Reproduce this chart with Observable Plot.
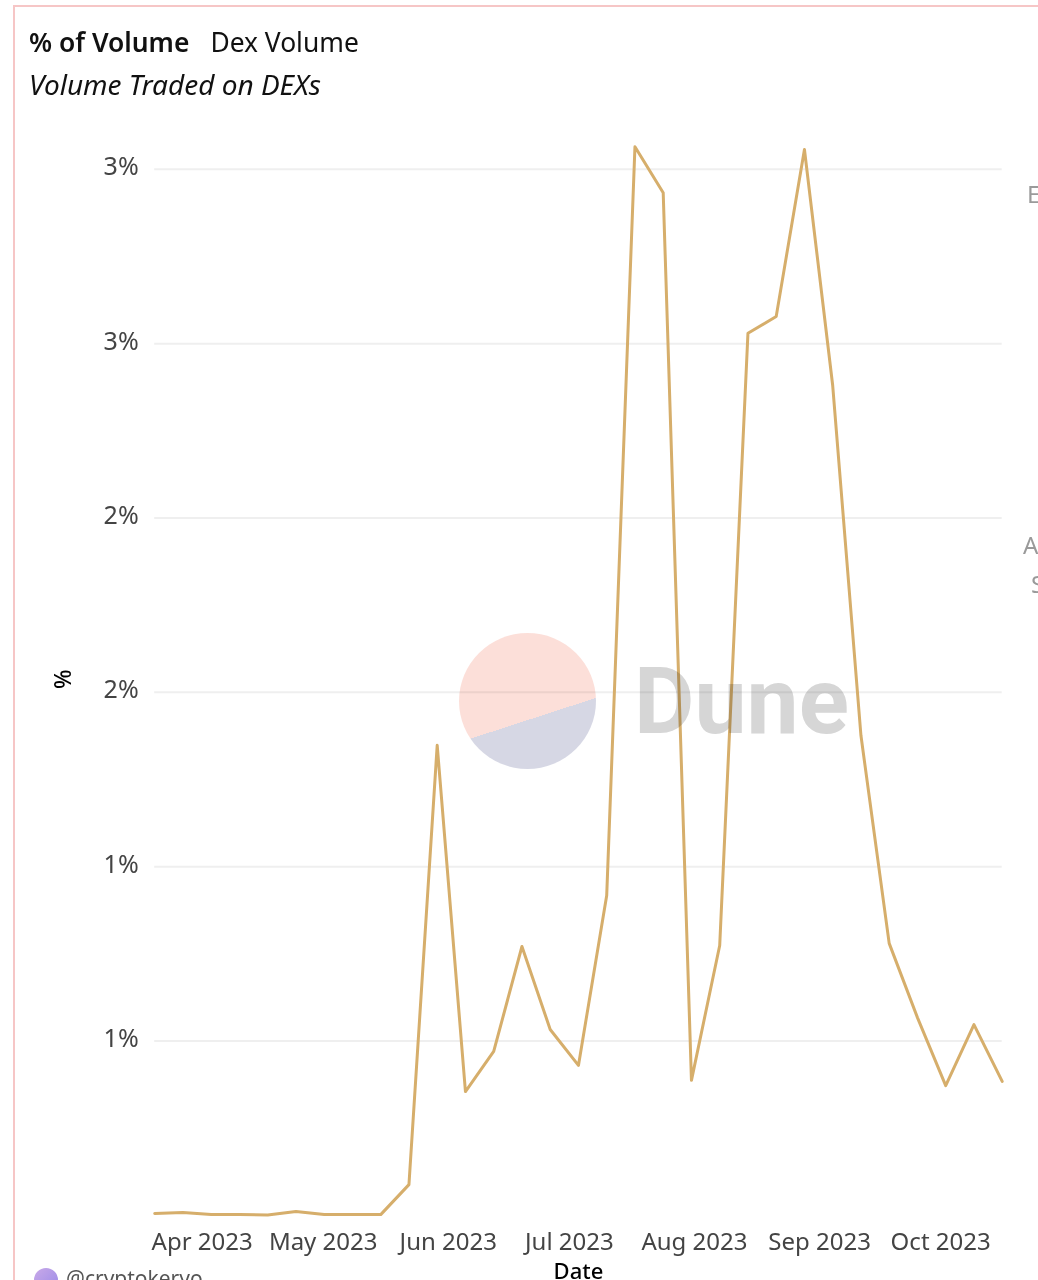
<!DOCTYPE html>
<html>
<head>
<meta charset="utf-8">
<script src="https://cdn.jsdelivr.net/npm/d3@7"></script>
<script src="https://cdn.jsdelivr.net/npm/@observablehq/plot@0.6"></script>
<style>
html,body{margin:0;padding:0;background:#fff;width:1038px;height:1280px;overflow:hidden;font-family:"Noto Sans",sans-serif}
#page{position:relative;width:1038px;height:1280px;overflow:hidden}
#frame{position:absolute;left:13px;top:5px;width:1100px;height:1400px;border:2px solid #f6c6c6;box-sizing:border-box}
#head{position:absolute;left:29px;top:22px;color:#111;white-space:nowrap}
#title{font-size:26.4px;line-height:40px;height:40px}
#title b{font-weight:600;margin-right:21px}
#sub{font-size:28px;line-height:44px;font-style:italic}
#chart{position:absolute;left:0;top:110px}
.wm{position:absolute;mix-blend-mode:multiply;pointer-events:none}
#pie{left:459px;top:633px;width:137px;height:136px;border-radius:50%;background:linear-gradient(162deg,#fcdfd9 60.6%,#d6d7e4 60.6%)}
#dune{left:634px;top:642px;font:700 93px/120px Roboto,sans-serif;color:#d6d6d6}
.cut{position:absolute;color:#9a9a9a;font-size:24px;line-height:30px}
#avatar{position:absolute;left:34px;top:1268px;width:24px;height:24px;border-radius:50%;background:linear-gradient(135deg,#c9a9e8,#9a8be8)}
#who{position:absolute;left:66px;top:1264px;font-size:21px;line-height:28px;color:#555}
</style>
</head>
<body>
<div id="page">
  <div id="frame"></div>
  <div id="head">
    <div id="title"><b>% of Volume</b>Dex Volume</div>
    <div id="sub">Volume Traded on DEXs</div>
  </div>
  <div id="chart"></div>
  <div class="wm" id="pie"></div>
  <div class="wm" id="dune">Dune</div>
  <div class="cut" style="left:1027px;top:179px">E</div>
  <div class="cut" style="left:1023px;top:530px">A</div>
  <div class="cut" style="left:1031px;top:569px">S</div>
  <div id="avatar"></div>
  <div id="who">@cryptokeryo</div>
</div>
<script>
const weeks = ["2023-03-20","2023-03-27","2023-04-03","2023-04-10","2023-04-17","2023-04-24","2023-05-01","2023-05-08","2023-05-15","2023-05-22","2023-05-29","2023-06-05","2023-06-12","2023-06-19","2023-06-26","2023-07-03","2023-07-10","2023-07-17","2023-07-24","2023-07-31","2023-08-07","2023-08-14","2023-08-21","2023-08-28","2023-09-04","2023-09-11","2023-09-18","2023-09-25","2023-10-02","2023-10-09","2023-10-16"];
const dexVolumePct = [0.005,0.008,0.002,0.002,0.001,0.011,0.002,0.002,0.002,0.088,1.348,0.355,0.470,0.771,0.533,0.430,0.917,3.065,2.933,0.387,0.774,2.530,2.578,3.057,2.380,1.376,0.780,0.567,0.372,0.547,0.384];
const yTicks = [0.5,1,1.5,2,2.5,3];
const yTickLabels = ["1%","1%","2%","2%","3%","3%"];
const xTicks = ["2023-04-01","2023-05-01","2023-06-01","2023-07-01","2023-08-01","2023-09-01","2023-10-01"];

const parse = d3.utcParse("%Y-%m-%d");
const rows = weeks.map((w,i)=>({date:parse(w),value:dexVolumePct[i]}));
const chart = Plot.plot({
  width:1038,
  height:1170,
  marginLeft:154.2,
  marginRight:36.3,
  marginTop:24,
  marginBottom:65.2,
  style:{background:"transparent",fontFamily:"'Noto Sans',sans-serif",overflow:"visible"},
  x:{type:"utc",domain:[parse(weeks[0]),parse(weeks[weeks.length-1])]},
  y:{domain:[0,3.1]},
  marks:[
    Plot.gridY(yTicks,{stroke:"#efefef",strokeOpacity:1,strokeWidth:2}),
    Plot.axisY({ticks:yTicks,tickFormat:(d)=>yTickLabels[yTicks.indexOf(d)],tickSize:0,tickPadding:16,fontSize:25,color:"#444",label:null,dy:-2}),
    Plot.axisX({ticks:xTicks.map(parse),tickFormat:d3.utcFormat("%b %Y"),tickSize:0,tickPadding:18,fontSize:24,color:"#444",label:null,dx:-1}),
    Plot.line(rows,{x:"date",y:"value",stroke:"#d6ae6b",strokeWidth:3,curve:"linear"}),
    Plot.text(["Date"],{frameAnchor:"bottom",dy:64,fontSize:22,fontWeight:500,fill:"#000"}),
    Plot.text(["%"],{frameAnchor:"left",dx:-91,dy:14,rotate:-90,fontSize:23,fontWeight:500,fill:"#000"})
  ]
});
document.getElementById("chart").append(chart);
</script>
</body>
</html>
